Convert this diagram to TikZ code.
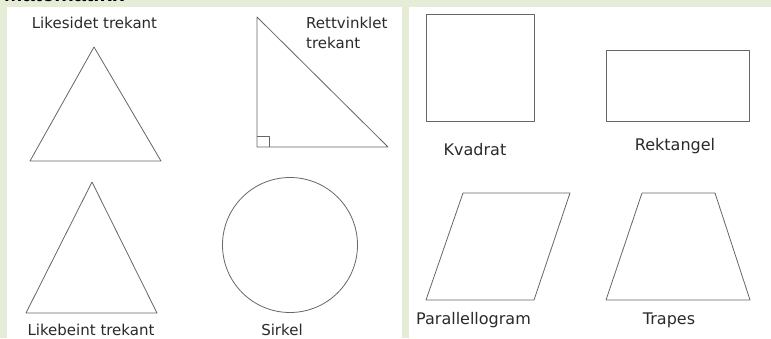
\documentclass[tikz,border=0pt]{standalone}
\usepackage{fontspec}
\setmainfont{DejaVu Sans}
\newfontfamily\titlefont{Liberation Sans}
\definecolor{bggreen}{HTML}{E5EDD6}
\definecolor{shapeline}{HTML}{666666}
\definecolor{labeltext}{HTML}{2A2A2A}
\tikzset{
  figline/.style={draw=shapeline, line width=0.8pt, line join=round},
  lbl/.style={text=labeltext, font=\fontsize{15}{17}\selectfont, inner sep=0pt, anchor=base},
  lblw/.style={lbl, anchor=base west},
  lblr/.style={lbl, font=\fontsize{16}{18}\selectfont},
}
\begin{document}
\begin{tikzpicture}[x=1pt,y=-1pt]
\useasboundingbox (0,0) rectangle (771,338);
\clip (0,0) rectangle (771,338);
\fill[bggreen] (0,0) rectangle (771,338);
\fill[white] (7,7) rectangle (402,338);
\fill[white] (409,7) rectangle (771,338);
\node[text=black, font=\titlefont\bfseries\fontsize{22}{24}\selectfont, inner sep=0pt, anchor=base west] (title) at (4,1) {Matematikk};
% equilateral triangle
\draw[figline] (94,47) -- (161,161) -- (30,161) -- cycle;
\node[lbl] (l1) at (94.5,28) {Likesidet trekant};
% right triangle
\draw[figline] (257,17) -- (388,147) -- (257,147) -- cycle;
\draw[figline, line width=0.6pt] (257,136) -- (269,136) -- (269,147);
\node[lblw] (l2a) at (306,28) {Rettvinklet};
\node[lblw] (l2b) at (306,48) {trekant};
% isosceles triangle
\draw[figline] (92,182) -- (157,313) -- (26,313) -- cycle;
\node[lbl] (l3) at (91,335.5) {Likebeint trekant};
% circle
\draw[figline] (290,245) circle[radius=67.5];
\node[lbl] (l4) at (282,335.5) {Sirkel};
% square
\draw[figline] (426,14) rectangle (534,121);
\node[lblr] (l5) at (475,155) {Kvadrat};
% rectangle
\draw[figline] (606,50) rectangle (749,121);
\node[lblr] (l6) at (675,150) {Rektangel};
% parallelogram
\draw[figline] (463,193) -- (570,193) -- (534,300) -- (426,300) -- cycle;
\node[lblr] (l7) at (473.5,324) {Parallellogram};
% trapezoid
\draw[figline] (642,193) -- (715,193) -- (750,300) -- (606,300) -- cycle;
\node[lblr] (l8) at (669,324) {Trapes};
\end{tikzpicture}
\end{document}
